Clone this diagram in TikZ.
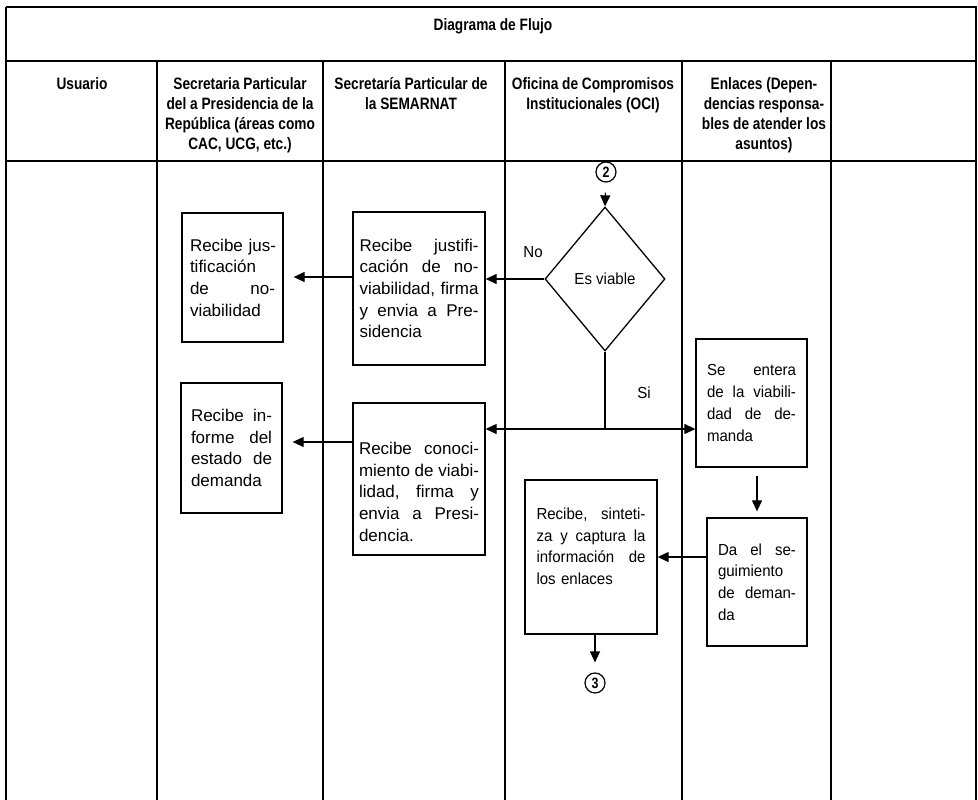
\documentclass[tikz,border=0pt]{standalone}
\usepackage{fontspec}
\setmainfont{Liberation Sans}[FakeStretch=0.94]
\newfontfamily\widefont{Liberation Sans}
\newfontfamily\hdrfont{Liberation Sans}[FakeStretch=0.83]
\usetikzlibrary{arrows.meta,shapes.geometric}

% one line of a justified paragraph: the \hfill gaps spread it to width \jw
\newcommand\jw{80pt}
\newcommand\jl[1]{\leavevmode\hbox to \jw{#1}}
% uniform top for the first line of a heading
\newcommand\tp{\rule{0pt}{14pt}}

\begin{document}
\begin{tikzpicture}[x=1pt,y=-1pt,
  grid/.style={line width=1.6pt},
  hdr/.style={anchor=north,inner sep=0pt,align=center,
    font=\hdrfont\bfseries\fontsize{16.5}{20}\selectfont},
  proc/.style={draw,line width=1.3pt,inner xsep=0pt,inner ysep=0pt,
    align=left,font=\fontsize{16}{21.7}\selectfont},
  wide/.style={font=\widefont\fontsize{17}{21.7}\selectfont},
  flow/.style={line width=1.2pt,-{Triangle[length=11pt,width=10pt]}},
  conn/.style={draw,circle,line width=1.2pt,inner sep=0pt,minimum size=20pt,
    font=\hdrfont\bfseries\fontsize{15}{15}\selectfont},
  lbl/.style={inner sep=0pt,font=\fontsize{16}{16}\selectfont}
]
\useasboundingbox (0,0) rectangle (978,800);

% swimlane table
\draw[grid] (6,7) -- (977,7);
\draw[grid] (6,61) -- (977,61);
\draw[grid] (6,161) -- (977,161);
\draw[grid] (6,7) -- (6,800);
\draw[grid] (976,7) -- (976,800);
\foreach \x in {157,323,505,682,831} \draw[grid] (\x,61) -- (\x,800);

% headings
\node[hdr,anchor=base] (title) at (493,31) {Diagrama de Flujo};
\node[hdr] (h1) at (82,75) {\tp Usuario};
\node[hdr] (h2) at (240,75) {\tp Secretaria Particular\\del a Presidencia de la\\República (áreas como\\CAC, UCG, etc.)};
\node[hdr] (h3) at (411,75) {\tp Secretaría Particular de\\la SEMARNAT};
\node[hdr] (h4) at (593,75) {\tp Oficina de Compromisos\\Institucionales (OCI)};
\node[hdr] (h5) at (764,75) {\tp Enlaces (Depen-\\dencias responsa-\\bles de atender los\\asuntos)};

% process boxes
\def\jw{85pt}
\node[proc,wide,minimum width=101pt,minimum height=129pt,text width=\jw] (A) at (232.5,277.5)
  {\jl{Recibe\ \hfill jus-}\\tificación\\\jl{de\hfill no-}\\viabilidad};
\def\jw{119pt}
\node[proc,wide,minimum width=132pt,minimum height=153pt,text width=\jw] (B) at (419,288.5)
  {\jl{Recibe\hfill justifi-}\\\jl{cación\hfill de\hfill no-}\\\jl{viabilidad,\hfill firma}\\\jl{y\hfill envia\hfill a\hfill Pre-}\\sidencia};
\def\jw{81pt}
\node[proc,wide,minimum width=101pt,minimum height=130pt,text width=\jw] (E) at (231.5,448)
  {\jl{Recibe\hfill in-}\\\jl{forme\hfill del}\\\jl{estado\hfill de}\\demanda};
\def\jw{120pt}
\node[proc,wide,minimum width=132pt,minimum height=152pt,text width=\jw] (C) at (419,479)
  {\jl{\rule{0pt}{38pt}Recibe\hfill conoci-}\\\jl{miento\hfill de\hfill viabi-}\\\jl{lidad,\hfill firma\hfill y}\\\jl{envia\hfill a\hfill Presi-}\\dencia.};
\def\jw{89pt}
\node[proc,minimum width=111pt,minimum height=128pt,text width=\jw] (D) at (751.5,403)
  {\jl{Se\hfill entera}\\\jl{de\hfill la\hfill viabili-}\\\jl{dad\hfill de\hfill de-}\\manda};
\def\jw{78pt}
\node[proc,minimum width=100pt,minimum height=128pt,text width=\jw] (F) at (757,582)
  {\jl{Da\hfill el\hfill se-}\\guimiento\\\jl{de\hfill deman-}\\da};
\def\jw{109pt}
\node[proc,minimum width=132pt,minimum height=154pt,text width=\jw] (G) at (591,557)
  {\jl{Recibe,\hfill sinteti-}\\\jl{za\hfill y\hfill captura\hfill la}\\\jl{información\hfill de}\\los enlaces\\\mbox{}};

% decision and off-page connectors
\node[draw,diamond,line width=1.3pt,inner sep=0pt,minimum width=120pt,minimum height=144pt,
  font=\fontsize{16}{16}\selectfont] (dmd) at (605,279) {Es viable};
\node[conn] (c2) at (606,172) {2};
\node[conn] (c3) at (595,683) {3};

\node[lbl] (no) at (533,252) {No};
\node[lbl] (si) at (644,393) {Si};

% connectors
\draw[flow,shorten <=10pt] (c2) -- (dmd.north);
\draw[flow] (dmd.west) -- (dmd.west -| B.east);
\draw[flow,shorten >=10pt] (B.west |- 0,277) -- (A.east |- 0,277);
\coordinate (j) at (605,429);
\draw[line width=1.2pt] (dmd.south) -- (j);
\draw[flow] (j) -- (j -| C.east);
\draw[flow] (j) -- (j -| D.west);
\draw[flow,shorten >=10pt] (C.west |- 0,442) -- (E.east |- 0,442);
\draw[flow,shorten <=8pt,shorten >=6pt] (F.north |- D.south) -- (F.north);
\draw[flow] (F.west |- G.east) -- (G.east);
\draw[flow,shorten >=10pt] (G.south -| c3.north) -- (c3.north);
\end{tikzpicture}
\end{document}
